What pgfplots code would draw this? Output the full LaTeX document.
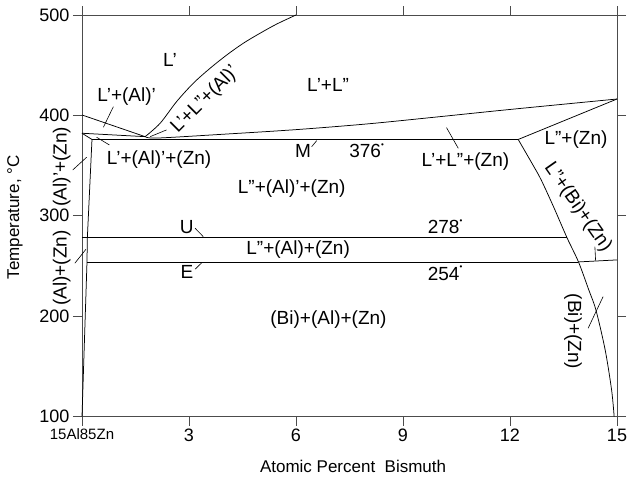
\documentclass[border=0pt]{standalone}
\usepackage{pgfplots}
\pgfplotsset{compat=1.18}
\usepackage{fontspec}
\setmainfont{Liberation Sans}
\newcommand{\dg}{\raisebox{0.55em}{\fontsize{8}{8}\selectfont•}}
\tikzset{
 lbl/.style={font=\fontsize{19}{21}\selectfont, inner sep=0pt},
 ldr/.style={black, line width=0.6pt, mark=none},
 bnd/.style={black, line width=0.75pt, mark=none},
}
\begin{document}
\begin{tikzpicture}
\useasboundingbox (-82pt,-60.5pt) rectangle (545pt,416.5pt);
\begin{axis}[
 at={(0pt,0pt)}, anchor=south west,
 scale only axis, width=535pt, height=401.5pt,
 xmin=0, xmax=15, ymin=100, ymax=500,
 xtick={0,3,6,9,12,15},
 xticklabels={{\fontsize{15}{15}\selectfont 15Al85Zn},3,6,9,12,15},
 ytick={100,200,300,400,500},
 tick align=outside, major tick length=9pt,
 xtick pos=both, ytick pos=both, xticklabel pos=lower, yticklabel pos=left,
 axis line style={black!70, line width=0.9pt},
 tick style={black!70, line width=0.9pt},
 ticklabel style={font=\fontsize{18}{20}\selectfont},
 /pgf/number format/assume math mode=true,
 clip=false,
]
% phase boundaries
\addplot[bnd] coordinates {(0,400.4) (1.77,378.8)};
\addplot[bnd, smooth] coordinates {(1.77,378.8) (2.19,392.1) (2.65,413.6) (3.12,432) (3.59,446.9) (4.06,460.2) (4.52,471.8) (4.99,481.8) (5.46,491) (6.0,500)};
\addplot[bnd, smooth] coordinates {(1.77,378.8) (2.1,377.4) (4,381.3) (6,385.8) (8,391.5) (10,398.6) (12,405.9) (15,416.3)};
\addplot[bnd] coordinates {(0.28,376) (12.23,376)};
\addplot[bnd] coordinates {(12.23,376) (15,416.3)};
\addplot[bnd] coordinates {(0,382.2) (1.77,378.8)};
\addplot[bnd] coordinates {(0,382.2) (0.28,376)};
\addplot[bnd] coordinates {(0.28,376) (0.15,278) (0.14,254) (0,100)};
\addplot[bnd] coordinates {(0,278) (13.6,278)};
\addplot[bnd] coordinates {(0.14,254) (13.92,254)};
\addplot[bnd, smooth] coordinates {(12.23,376) (12.62,352) (12.87,336) (13.22,309) (13.6,278) (13.92,254) (14.21,226) (14.41,206) (14.67,166) (14.85,126) (14.92,100)};
\addplot[bnd] coordinates {(13.92,254) (15,256)};
% leader lines
\addplot[ldr] coordinates {(0.88,408.7) (0.6,388.2)};
\addplot[ldr] coordinates {(2.37,385.5) (1.91,378.8)};
\addplot[ldr] coordinates {(0.41,378.2) (0.77,370.5)};
\addplot[ldr] coordinates {(0.13,358.3) (-0.26,345.6)};
\addplot[ldr] coordinates {(0.11,266.6) (-0.2,252.7)};
\addplot[ldr] coordinates {(6.44,368.8) (6.58,374.8)};
\addplot[ldr] coordinates {(10.22,387.8) (10.55,367.2)};
\addplot[ldr] coordinates {(3.17,287.6) (3.4,279.2)};
\addplot[ldr] coordinates {(3.17,246.7) (3.36,253.3)};
\addplot[ldr] coordinates {(14.38,269.2) (14.4,255.3)};
\addplot[ldr] coordinates {(14.19,187.9) (14.61,219.4)};
% labels
\node[lbl] at (axis cs:2.47,455) {L’};
\node[lbl] at (axis cs:6.9,430.3) {L’+L”};
\node[lbl] at (axis cs:1.25,418.6) {L’+(Al)’};
\node[lbl, rotate=45] at (axis cs:3.45,415.5) {L’+L”+(Al)’};
\node[lbl] at (axis cs:2.16,355.6) {L’+(Al)’+(Zn)};
\node[lbl, rotate=90] at (axis cs:-0.57,348.9) {(Al)’+(Zn)};
\node[lbl, rotate=90] at (axis cs:-0.57,248) {(Al)+(Zn)};
\node[lbl] at (axis cs:6.2,364.8) {M};
\node[lbl] at (axis cs:7.98,364.8) {376\dg};
\node[lbl] at (axis cs:10.75,353.9) {L’+L”+(Zn)};
\node[lbl] at (axis cs:5.88,327.4) {L”+(Al)’+(Zn)};
\node[lbl] at (axis cs:2.94,289.1) {U};
\node[lbl] at (axis cs:10.18,289.1) {278\dg};
\node[lbl] at (axis cs:6.06,265.9) {L”+(Al)+(Zn)};
\node[lbl] at (axis cs:2.94,244.3) {E};
\node[lbl] at (axis cs:10.18,242.7) {254\dg};
\node[lbl] at (axis cs:6.91,196.2) {(Bi)+(Al)+(Zn)};
\node[lbl] at (axis cs:13.85,375.5) {L”+(Zn)};
\node[lbl, rotate=-55] at (axis cs:13.9,308.3) {L”+(Bi)+(Zn)};
\node[lbl, rotate=-90] at (axis cs:13.77,184.6) {(Bi)+(Zn)};
% axis titles
\node[font=\fontsize{17}{19}\selectfont] at (axis cs:7.6,49.8) {Atomic Percent\ \ Bismuth};
\node[font=\fontsize{17}{19}\selectfont, rotate=90] at (axis cs:-1.878,298.3) {Temperature, °C};
\end{axis}
\end{tikzpicture}
\end{document}
